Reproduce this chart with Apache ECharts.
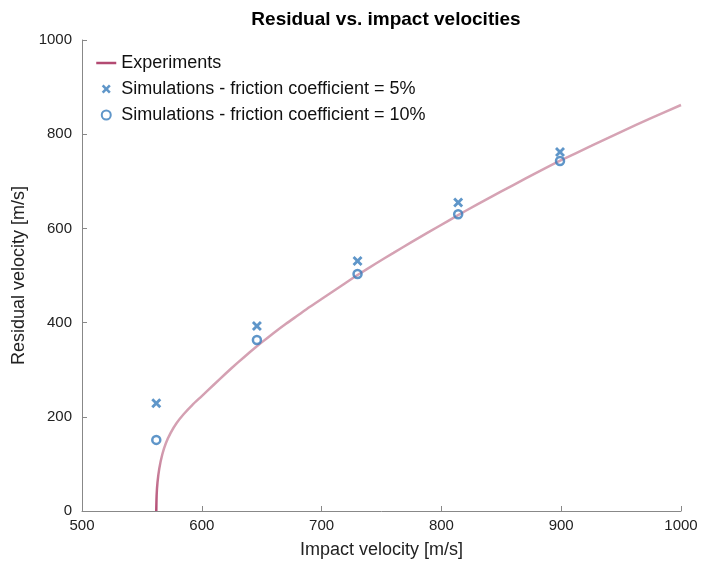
<!DOCTYPE html>
<html>
<head>
<meta charset="utf-8">
<script src="https://cdn.jsdelivr.net/npm/echarts@6/dist/echarts.min.js"></script>
<style>html,body{margin:0;padding:0;background:#fff}#c{width:701px;height:566px}</style>
</head>
<body>
<div id="c"></div>
<script>
// Experiments curve
const expX = [562, 562.3, 563, 564.5, 567, 570, 574, 579, 585, 592, 600, 610, 620, 630, 640, 650, 660, 670, 680, 690, 700, 710, 720, 730, 745, 760, 775, 790, 805, 820, 840, 860, 880, 900, 925, 950, 975, 1000];
const expY = [0, 33, 60, 90, 120, 144, 166, 187, 206, 225, 244, 268, 292, 315, 337, 358, 378, 397, 415, 433, 450, 467, 484, 501, 525, 548, 571, 593, 615, 637, 665, 692, 719, 745, 775, 805, 834, 862];
// Simulations
const simX = [562, 646, 730, 814, 899];
const sim5 = [229, 393, 531, 655, 762];
const sim10 = [151, 363, 503, 630, 743];
const xTicks = [500, 600, 700, 800, 900, 1000];
const yTicks = [0, 200, 400, 600, 800, 1000];

const FONT = 'Liberation Sans, Arial, sans-serif';
const crossPath = 'path://M0,2 L2,0 L5,3 L8,0 L10,2 L7,5 L10,8 L8,10 L5,7 L2,10 L0,8 L3,5 Z';
const blue = '#377cbb';
const chart = echarts.init(document.getElementById('c'), null, {renderer: 'canvas'});
chart.setOption({
  animation: false,
  title: {text: 'Residual vs. impact velocities', left: 381, textAlign: 'center', top: 5,
    textStyle: {fontFamily: FONT, fontSize: 19, fontWeight: 'bold', color: '#000'}},
  legend: {
    orient: 'vertical', left: 90, top: 49, itemWidth: 20, itemHeight: 9, itemGap: 8,
    textStyle: {fontFamily: FONT, fontSize: 18, color: '#111'},
    data: [
      {name: 'Experiments', itemStyle: {opacity: 0}, lineStyle: {color: '#b34a72', width: 2.5}},
      {name: 'Simulations - friction coefficient = 5%'},
      {name: 'Simulations - friction coefficient = 10%'}
    ]
  },
  grid: {left: 82, right: 20, top: 40, bottom: 55},
  xAxis: {
    type: 'value', min: 500, max: 1000, interval: 100,
    name: 'Impact velocity [m/s]', nameLocation: 'middle', nameGap: 30,
    nameTextStyle: {fontFamily: FONT, fontSize: 18, color: '#222'},
    axisLine: {lineStyle: {color: '#888', width: 1}},
    axisTick: {inside: true, length: 5, lineStyle: {color: '#888'}},
    axisLabel: {fontFamily: FONT, fontSize: 15, color: '#222', margin: 7,
      formatter: v => xTicks.includes(v) ? String(v) : ''},
    splitLine: {show: false}
  },
  yAxis: {
    type: 'value', min: 0, max: 1000, interval: 200,
    name: 'Residual velocity [m/s]', nameLocation: 'middle', nameGap: 52,
    nameTextStyle: {fontFamily: FONT, fontSize: 18, color: '#222'},
    axisLine: {show: true, lineStyle: {color: '#888', width: 1}},
    axisTick: {show: true, inside: true, length: 5, lineStyle: {color: '#888'}},
    axisLabel: {fontFamily: FONT, fontSize: 15, color: '#222', margin: 10,
      formatter: v => yTicks.includes(v) ? String(v) : ''},
    splitLine: {show: false}
  },
  series: [
    {
      name: 'Experiments', type: 'line', smooth: 0.2, symbol: 'none',
      data: expX.map((x, i) => [x, expY[i]]),
      lineStyle: {width: 2.5, color: new echarts.graphic.LinearGradient(0, 0, 0, 1, [
        {offset: 0, color: '#d6a3b4'}, {offset: 0.84, color: '#d4a0b2'},
        {offset: 0.94, color: '#c06a8a'}, {offset: 1, color: '#b34a72'}])},
      color: '#b34a72', z: 1
    },
    {
      name: 'Simulations - friction coefficient = 5%', type: 'scatter', symbol: crossPath, symbolSize: 10,
      data: simX.map((x, i) => [x, sim5[i]]),
      itemStyle: {color: blue}, z: 3
    },
    {
      name: 'Simulations - friction coefficient = 10%', type: 'scatter', symbol: 'circle', symbolSize: 8,
      data: simX.map((x, i) => [x, sim10[i]]),
      itemStyle: {color: 'rgba(0,0,0,0)', borderColor: blue, borderWidth: 2.5}, z: 3
    }
  ]
});
</script>
</body>
</html>
